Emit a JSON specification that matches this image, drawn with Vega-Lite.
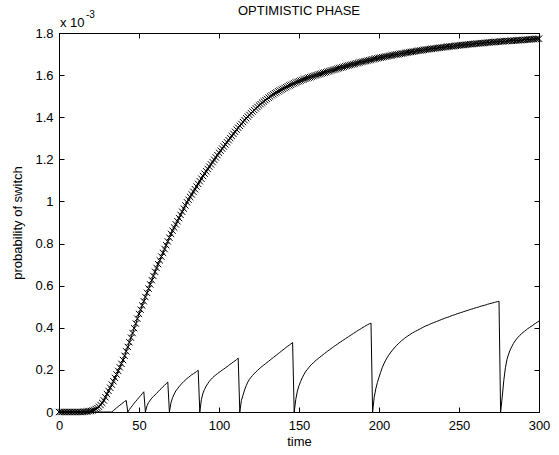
{
"$schema":"https://vega.github.io/schema/vega-lite/v6.json",
"width":480,"height":379,
"autosize":{"type":"none"},
"padding":{"left":59,"top":33,"right":20,"bottom":43},
"background":"white",
"config":{"font":"Liberation Sans","view":{"stroke":"black","strokeWidth":1},
"axis":{"domain":false,"grid":false,"labelFlush":false,"tickColor":"black","tickSize":-5,"tickWidth":1,"labelColor":"black","labelFontSize":13,"titleFontSize":13,"titleFontWeight":"normal","titleColor":"black","labelFont":"Liberation Sans","titleFont":"Liberation Sans"},
"title":{"fontSize":13,"fontWeight":"normal","font":"Liberation Sans","color":"black"}},
"title":{"text":"OPTIMISTIC PHASE","offset":-18,"baseline":"alphabetic"},
"data":{"values":[
{"t":0,"p":0,"q":0},{"t":1,"p":0,"q":0},{"t":2,"p":0,"q":0},{"t":3,"p":0,"q":0},{"t":4,"p":0,"q":0},{"t":5,"p":0,"q":0},{"t":6,"p":0,"q":0},{"t":7,"p":0,"q":0},{"t":8,"p":0,"q":0},{"t":9,"p":0,"q":0},
{"t":10,"p":0,"q":0},{"t":11,"p":0,"q":0},{"t":12,"p":0,"q":0},{"t":13,"p":0,"q":0},{"t":14,"p":0,"q":0},{"t":15,"p":0.001,"q":0},{"t":16,"p":0.001,"q":0},{"t":17,"p":0.002,"q":0},{"t":18,"p":0.003,"q":0},{"t":19,"p":0.004,"q":0},
{"t":20,"p":0.005,"q":0},{"t":21,"p":0.007,"q":0},{"t":22,"p":0.01,"q":0},{"t":23,"p":0.014,"q":0},{"t":24,"p":0.019,"q":0},{"t":25,"p":0.025,"q":0},{"t":26,"p":0.033,"q":0},{"t":27,"p":0.043,"q":0},{"t":28,"p":0.055,"q":0},{"t":29,"p":0.07,"q":0},
{"t":30,"p":0.085,"q":0},{"t":31,"p":0.1,"q":0},{"t":32,"p":0.115,"q":0},{"t":33,"p":0.13,"q":0},{"t":34,"p":0.146,"q":0.007},{"t":35,"p":0.162,"q":0.013},{"t":36,"p":0.178,"q":0.02},{"t":37,"p":0.195,"q":0.026},{"t":38,"p":0.212,"q":0.032},{"t":39,"p":0.229,"q":0.038},
{"t":40,"p":0.247,"q":0.044},{"t":41,"p":0.267,"q":0.05},{"t":42,"p":0.288,"q":0.055},{"t":43,"p":0.309,"q":0},{"t":44,"p":0.331,"q":0.012},{"t":45,"p":0.353,"q":0.022},{"t":46,"p":0.375,"q":0.032},{"t":47,"p":0.398,"q":0.042},{"t":48,"p":0.42,"q":0.051},{"t":49,"p":0.443,"q":0.06},
{"t":50,"p":0.466,"q":0.069},{"t":51,"p":0.486,"q":0.078},{"t":52,"p":0.506,"q":0.087},{"t":53,"p":0.526,"q":0.096},{"t":54,"p":0.546,"q":0},{"t":55,"p":0.566,"q":0.03},{"t":56,"p":0.586,"q":0.045},{"t":57,"p":0.606,"q":0.056},{"t":58,"p":0.626,"q":0.066},{"t":59,"p":0.646,"q":0.074},
{"t":60,"p":0.666,"q":0.081},{"t":61,"p":0.684,"q":0.089},{"t":62,"p":0.702,"q":0.097},{"t":63,"p":0.72,"q":0.105},{"t":64,"p":0.738,"q":0.112},{"t":65,"p":0.756,"q":0.12},{"t":66,"p":0.774,"q":0.127},{"t":67,"p":0.792,"q":0.135},{"t":68,"p":0.81,"q":0.142},{"t":69,"p":0.828,"q":0},
{"t":70,"p":0.846,"q":0.045},{"t":71,"p":0.861,"q":0.068},{"t":72,"p":0.876,"q":0.085},{"t":73,"p":0.891,"q":0.1},{"t":74,"p":0.906,"q":0.11},{"t":75,"p":0.921,"q":0.12},{"t":76,"p":0.936,"q":0.129},{"t":77,"p":0.951,"q":0.137},{"t":78,"p":0.966,"q":0.145},{"t":79,"p":0.981,"q":0.152},
{"t":80,"p":0.996,"q":0.159},{"t":81,"p":1.008,"q":0.165},{"t":82,"p":1.021,"q":0.171},{"t":83,"p":1.033,"q":0.177},{"t":84,"p":1.046,"q":0.182},{"t":85,"p":1.058,"q":0.187},{"t":86,"p":1.071,"q":0.192},{"t":87,"p":1.083,"q":0.198},{"t":88,"p":1.096,"q":0},{"t":89,"p":1.108,"q":0.06},
{"t":90,"p":1.121,"q":0.09},{"t":91,"p":1.132,"q":0.108},{"t":92,"p":1.143,"q":0.123},{"t":93,"p":1.154,"q":0.135},{"t":94,"p":1.165,"q":0.146},{"t":95,"p":1.176,"q":0.155},{"t":96,"p":1.187,"q":0.163},{"t":97,"p":1.198,"q":0.17},{"t":98,"p":1.209,"q":0.176},{"t":99,"p":1.22,"q":0.182},
{"t":100,"p":1.231,"q":0.188},{"t":101,"p":1.241,"q":0.193},{"t":102,"p":1.251,"q":0.199},{"t":103,"p":1.261,"q":0.204},{"t":104,"p":1.271,"q":0.21},{"t":105,"p":1.281,"q":0.215},{"t":106,"p":1.291,"q":0.221},{"t":107,"p":1.301,"q":0.227},{"t":108,"p":1.311,"q":0.232},{"t":109,"p":1.321,"q":0.238},
{"t":110,"p":1.331,"q":0.243},{"t":111,"p":1.341,"q":0.249},{"t":112,"p":1.35,"q":0.256},{"t":113,"p":1.359,"q":0},{"t":114,"p":1.368,"q":0.055},{"t":115,"p":1.377,"q":0.08},{"t":116,"p":1.386,"q":0.105},{"t":117,"p":1.395,"q":0.125},{"t":118,"p":1.403,"q":0.142},{"t":119,"p":1.411,"q":0.155},
{"t":120,"p":1.419,"q":0.165},{"t":121,"p":1.427,"q":0.174},{"t":122,"p":1.434,"q":0.182},{"t":123,"p":1.442,"q":0.19},{"t":124,"p":1.449,"q":0.197},{"t":125,"p":1.456,"q":0.204},{"t":126,"p":1.462,"q":0.211},{"t":127,"p":1.469,"q":0.217},{"t":128,"p":1.475,"q":0.223},{"t":129,"p":1.481,"q":0.229},
{"t":130,"p":1.487,"q":0.235},{"t":131,"p":1.493,"q":0.241},{"t":132,"p":1.498,"q":0.247},{"t":133,"p":1.504,"q":0.253},{"t":134,"p":1.509,"q":0.259},{"t":135,"p":1.514,"q":0.265},{"t":136,"p":1.518,"q":0.271},{"t":137,"p":1.523,"q":0.277},{"t":138,"p":1.527,"q":0.283},{"t":139,"p":1.531,"q":0.289},
{"t":140,"p":1.535,"q":0.295},{"t":141,"p":1.539,"q":0.301},{"t":142,"p":1.543,"q":0.307},{"t":143,"p":1.547,"q":0.313},{"t":144,"p":1.551,"q":0.318},{"t":145,"p":1.554,"q":0.324},{"t":146,"p":1.558,"q":0.33},{"t":147,"p":1.561,"q":0},{"t":148,"p":1.565,"q":0.06},{"t":149,"p":1.568,"q":0.1},
{"t":150,"p":1.571,"q":0.125},{"t":151,"p":1.574,"q":0.145},{"t":152,"p":1.577,"q":0.162},{"t":153,"p":1.58,"q":0.177},{"t":154,"p":1.582,"q":0.19},{"t":155,"p":1.585,"q":0.2},{"t":156,"p":1.588,"q":0.21},{"t":157,"p":1.59,"q":0.219},{"t":158,"p":1.593,"q":0.227},{"t":159,"p":1.595,"q":0.234},
{"t":160,"p":1.598,"q":0.241},{"t":161,"p":1.6,"q":0.248},{"t":162,"p":1.603,"q":0.254},{"t":163,"p":1.605,"q":0.26},{"t":164,"p":1.607,"q":0.266},{"t":165,"p":1.61,"q":0.272},{"t":166,"p":1.612,"q":0.278},{"t":167,"p":1.614,"q":0.284},{"t":168,"p":1.617,"q":0.29},{"t":169,"p":1.619,"q":0.295},
{"t":170,"p":1.622,"q":0.301},{"t":171,"p":1.624,"q":0.306},{"t":172,"p":1.626,"q":0.312},{"t":173,"p":1.628,"q":0.317},{"t":174,"p":1.631,"q":0.322},{"t":175,"p":1.633,"q":0.328},{"t":176,"p":1.635,"q":0.333},{"t":177,"p":1.637,"q":0.338},{"t":178,"p":1.639,"q":0.343},{"t":179,"p":1.642,"q":0.348},
{"t":180,"p":1.644,"q":0.353},{"t":181,"p":1.646,"q":0.358},{"t":182,"p":1.648,"q":0.363},{"t":183,"p":1.65,"q":0.368},{"t":184,"p":1.652,"q":0.373},{"t":185,"p":1.654,"q":0.378},{"t":186,"p":1.656,"q":0.383},{"t":187,"p":1.658,"q":0.388},{"t":188,"p":1.66,"q":0.392},{"t":189,"p":1.662,"q":0.397},
{"t":190,"p":1.664,"q":0.402},{"t":191,"p":1.666,"q":0.406},{"t":192,"p":1.667,"q":0.411},{"t":193,"p":1.669,"q":0.415},{"t":194,"p":1.671,"q":0.419},{"t":195,"p":1.673,"q":0.422},{"t":196,"p":1.675,"q":0},{"t":197,"p":1.677,"q":0.07},{"t":198,"p":1.678,"q":0.11},{"t":199,"p":1.68,"q":0.14},
{"t":200,"p":1.682,"q":0.165},{"t":201,"p":1.683,"q":0.188},{"t":202,"p":1.685,"q":0.21},{"t":203,"p":1.686,"q":0.228},{"t":204,"p":1.688,"q":0.243},{"t":205,"p":1.689,"q":0.257},{"t":206,"p":1.691,"q":0.269},{"t":207,"p":1.692,"q":0.28},{"t":208,"p":1.694,"q":0.29},{"t":209,"p":1.695,"q":0.299},
{"t":210,"p":1.697,"q":0.308},{"t":211,"p":1.698,"q":0.316},{"t":212,"p":1.699,"q":0.324},{"t":213,"p":1.701,"q":0.331},{"t":214,"p":1.702,"q":0.338},{"t":215,"p":1.703,"q":0.344},{"t":216,"p":1.705,"q":0.35},{"t":217,"p":1.706,"q":0.356},{"t":218,"p":1.707,"q":0.361},{"t":219,"p":1.709,"q":0.366},
{"t":220,"p":1.71,"q":0.371},{"t":221,"p":1.711,"q":0.376},{"t":222,"p":1.712,"q":0.38},{"t":223,"p":1.714,"q":0.384},{"t":224,"p":1.715,"q":0.388},{"t":225,"p":1.716,"q":0.392},{"t":226,"p":1.717,"q":0.396},{"t":227,"p":1.718,"q":0.4},{"t":228,"p":1.72,"q":0.404},{"t":229,"p":1.721,"q":0.408},
{"t":230,"p":1.722,"q":0.411},{"t":231,"p":1.723,"q":0.414},{"t":232,"p":1.724,"q":0.418},{"t":233,"p":1.725,"q":0.421},{"t":234,"p":1.726,"q":0.424},{"t":235,"p":1.727,"q":0.427},{"t":236,"p":1.728,"q":0.43},{"t":237,"p":1.729,"q":0.433},{"t":238,"p":1.73,"q":0.436},{"t":239,"p":1.731,"q":0.439},
{"t":240,"p":1.732,"q":0.442},{"t":241,"p":1.733,"q":0.445},{"t":242,"p":1.734,"q":0.448},{"t":243,"p":1.735,"q":0.45},{"t":244,"p":1.736,"q":0.453},{"t":245,"p":1.737,"q":0.456},{"t":246,"p":1.737,"q":0.459},{"t":247,"p":1.738,"q":0.461},{"t":248,"p":1.739,"q":0.464},{"t":249,"p":1.74,"q":0.467},
{"t":250,"p":1.741,"q":0.469},{"t":251,"p":1.742,"q":0.472},{"t":252,"p":1.743,"q":0.474},{"t":253,"p":1.743,"q":0.477},{"t":254,"p":1.744,"q":0.479},{"t":255,"p":1.745,"q":0.482},{"t":256,"p":1.746,"q":0.484},{"t":257,"p":1.747,"q":0.487},{"t":258,"p":1.747,"q":0.489},{"t":259,"p":1.748,"q":0.491},
{"t":260,"p":1.749,"q":0.494},{"t":261,"p":1.75,"q":0.496},{"t":262,"p":1.75,"q":0.498},{"t":263,"p":1.751,"q":0.501},{"t":264,"p":1.752,"q":0.503},{"t":265,"p":1.752,"q":0.505},{"t":266,"p":1.753,"q":0.507},{"t":267,"p":1.754,"q":0.509},{"t":268,"p":1.755,"q":0.512},{"t":269,"p":1.755,"q":0.514},
{"t":270,"p":1.756,"q":0.516},{"t":271,"p":1.757,"q":0.518},{"t":272,"p":1.757,"q":0.52},{"t":273,"p":1.758,"q":0.522},{"t":274,"p":1.758,"q":0.524},{"t":275,"p":1.759,"q":0.526},{"t":276,"p":1.76,"q":0},{"t":277,"p":1.76,"q":0.07},{"t":278,"p":1.761,"q":0.15},{"t":279,"p":1.761,"q":0.21},
{"t":280,"p":1.762,"q":0.25},{"t":281,"p":1.762,"q":0.275},{"t":282,"p":1.763,"q":0.295},{"t":283,"p":1.763,"q":0.311},{"t":284,"p":1.764,"q":0.325},{"t":285,"p":1.764,"q":0.337},{"t":286,"p":1.765,"q":0.347},{"t":287,"p":1.765,"q":0.356},{"t":288,"p":1.766,"q":0.364},{"t":289,"p":1.766,"q":0.371},
{"t":290,"p":1.767,"q":0.378},{"t":291,"p":1.768,"q":0.384},{"t":292,"p":1.768,"q":0.39},{"t":293,"p":1.769,"q":0.396},{"t":294,"p":1.769,"q":0.401},{"t":295,"p":1.77,"q":0.406},{"t":296,"p":1.771,"q":0.411},{"t":297,"p":1.771,"q":0.417},{"t":298,"p":1.772,"q":0.422},{"t":299,"p":1.772,"q":0.427},
{"t":300,"p":1.773,"q":0.432}
]},
"layer":[
{"mark":{"type":"line","color":"black","strokeWidth":1},
"encoding":{
"x":{"field":"t","type":"quantitative","scale":{"domain":[0,300],"nice":false,"zero":false},"axis":{"orient":"bottom","values":[0,50,100,150,200,250,300],"labelPadding":12,"title":"time","titlePadding":3}},
"y":{"field":"q","type":"quantitative","scale":{"domain":[0,1.8],"nice":false},"axis":{"orient":"left","values":[0,0.2,0.4,0.6,0.8,1,1.2,1.4,1.6,1.8],"format":"~g","labelPadding":11,"title":"probability of switch","titlePadding":10}}}},
{"mark":{"type":"line","color":"black","strokeWidth":1},
"encoding":{
"x":{"field":"t","type":"quantitative","axis":{"orient":"top","values":[0,50,100,150,200,250,300],"labels":false,"title":null}},
"y":{"field":"p","type":"quantitative","axis":{"orient":"right","values":[0,0.2,0.4,0.6,0.8,1,1.2,1.4,1.6,1.8],"labels":false,"title":null}}}},
{"mark":{"type":"point","shape":"M-1,-1L1,1M-1,1L1,-1","filled":false,"color":"black","size":40,"strokeWidth":1,"opacity":1},
"encoding":{
"x":{"field":"t","type":"quantitative","axis":null},
"y":{"field":"p","type":"quantitative","axis":null}}},
{"data":{"values":[{"label":"x 10"}]},
"mark":{"type":"text","align":"left","baseline":"alphabetic","dx":1,"dy":-6,"fontSize":13,"color":"black"},
"encoding":{"text":{"field":"label"},"x":{"datum":0,"type":"quantitative","axis":null},"y":{"datum":1.8,"type":"quantitative","axis":null}}},
{"data":{"values":[{"label":"-3"}]},
"mark":{"type":"text","align":"left","baseline":"alphabetic","dx":27,"dy":-15,"fontSize":10,"color":"black"},
"encoding":{"text":{"field":"label"},"x":{"datum":0,"type":"quantitative","axis":null},"y":{"datum":1.8,"type":"quantitative","axis":null}}}
]
}
